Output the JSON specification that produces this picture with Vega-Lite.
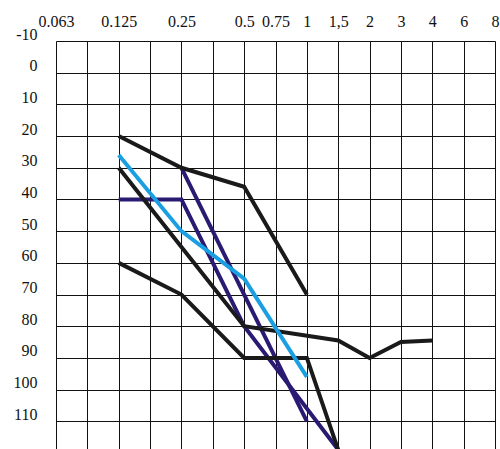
{
  "$schema": "https://vega.github.io/schema/vega-lite/v6.json",
  "width": 439,
  "height": 412,
  "autosize": {"type": "none"},
  "padding": {"left": 56, "top": 41, "right": 5, "bottom": 0},
  "background": "white",
  "config": {"view": {"stroke": null}, "font": "Liberation Serif"},
  "data": {
    "values": [
      {"series": "1", "pos": 2, "freq": "0.125", "db": 40},
      {"series": "1", "pos": 4, "freq": "0.25", "db": 40},
      {"series": "1", "pos": 6, "freq": "0.5", "db": 80},
      {"series": "1", "pos": 9, "freq": "1,5", "db": 119},
      {"series": "2", "pos": 4, "freq": "0.25", "db": 30},
      {"series": "2", "pos": 8, "freq": "1", "db": 110},
      {"series": "3", "pos": 2, "freq": "0.125", "db": 20},
      {"series": "3", "pos": 4, "freq": "0.25", "db": 30},
      {"series": "3", "pos": 6, "freq": "0.5", "db": 36},
      {"series": "3", "pos": 8, "freq": "1", "db": 70},
      {"series": "4", "pos": 2, "freq": "0.125", "db": 30},
      {"series": "4", "pos": 4, "freq": "0.25", "db": 55},
      {"series": "4", "pos": 6, "freq": "0.5", "db": 80},
      {"series": "4", "pos": 9, "freq": "1,5", "db": 84.5},
      {"series": "4", "pos": 10, "freq": "2", "db": 90},
      {"series": "4", "pos": 11, "freq": "3", "db": 85},
      {"series": "4", "pos": 12, "freq": "4", "db": 84.5},
      {"series": "5", "pos": 2, "freq": "0.125", "db": 60},
      {"series": "5", "pos": 4, "freq": "0.25", "db": 70},
      {"series": "5", "pos": 6, "freq": "0.5", "db": 90},
      {"series": "5", "pos": 8, "freq": "1", "db": 90},
      {"series": "5", "pos": 9, "freq": "1,5", "db": 119},
      {"series": "6", "pos": 2, "freq": "0.125", "db": 26},
      {"series": "6", "pos": 4, "freq": "0.25", "db": 50},
      {"series": "6", "pos": 6, "freq": "0.5", "db": 65},
      {"series": "6", "pos": 8, "freq": "1", "db": 96}
    ]
  },
  "mark": {"type": "line", "strokeWidth": 4, "clip": true},
  "encoding": {
    "x": {
      "field": "pos",
      "type": "quantitative",
      "scale": {"domain": [0, 14], "nice": false, "zero": false},
      "axis": {
        "orient": "top",
        "values": [0, 1, 2, 3, 4, 5, 6, 7, 8, 9, 10, 11, 12, 13, 14],
        "labelExpr": "['0.063','','0.125','','0.25','','0.5','0.75','1','1,5','2','3','4','6','8'][datum.value]",
        "grid": true,
        "gridColor": "#111111",
        "gridWidth": 1,
        "gridOpacity": 1,
        "domain": false,
        "ticks": false,
        "tickSize": 0,
        "labelPadding": 15,
        "labelBaseline": "alphabetic",
        "labelFontSize": 16,
        "labelColor": "#111111",
        "labelFont": "Liberation Serif",
        "labelFlush": false,
        "labelOverlap": false,
        "title": null
      }
    },
    "y": {
      "field": "db",
      "type": "quantitative",
      "scale": {"domain": [-10, 120], "reverse": true, "nice": false, "zero": false},
      "axis": {
        "values": [-10, 0, 10, 20, 30, 40, 50, 60, 70, 80, 90, 100, 110],
        "labelExpr": "'' + datum.value",
        "grid": true,
        "gridColor": "#111111",
        "gridWidth": 1,
        "gridOpacity": 1,
        "domain": false,
        "ticks": false,
        "tickSize": 0,
        "labelPadding": 19,
        "labelOffset": -2,
        "labelBaseline": "alphabetic",
        "labelFontSize": 16,
        "labelColor": "#111111",
        "labelFont": "Liberation Serif",
        "labelFlush": false,
        "labelOverlap": false,
        "title": null
      }
    },
    "color": {
      "field": "series",
      "type": "nominal",
      "scale": {
        "domain": ["1", "2", "3", "4", "5", "6"],
        "range": ["#2a1a72", "#2a1a72", "#1a1a1a", "#1a1a1a", "#1a1a1a", "#1aa0e2"]
      },
      "legend": null
    }
  }
}
